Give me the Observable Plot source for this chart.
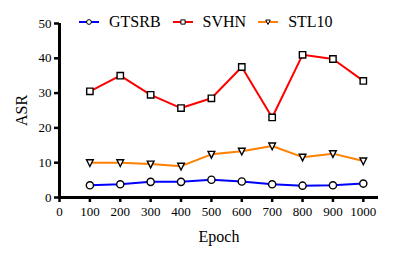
<!DOCTYPE html>
<html><head><meta charset="utf-8">
<script src="https://cdn.jsdelivr.net/npm/d3@7"></script>
<script src="https://cdn.jsdelivr.net/npm/@observablehq/plot@0.6"></script>
<style>
body{margin:0;background:#fff;font-family:"Liberation Serif",serif;}
#wrap{position:relative;width:416px;height:259px;}
#wrap svg text{font-family:"Liberation Serif",serif;}
#legend{position:absolute;left:79px;top:13px;display:flex;align-items:center;font-size:16px;color:#000;}
#legend .it{display:flex;align-items:center;margin-right:12px;}
#legend svg{margin-right:10px;}
</style></head>
<body><div id="wrap"><div id="legend"></div></div>
<script>
const epochs = [100,200,300,400,500,600,700,800,900,1000];
const gtsrb = [3.5,3.8,4.5,4.5,5.1,4.6,3.8,3.4,3.5,4.0];
const svhn  = [30.5,35.0,29.5,25.7,28.5,37.5,23.0,41.0,39.8,33.5];
const stl10 = [10.0,10.0,9.6,9.0,12.4,13.3,14.8,11.6,12.6,10.5];
const seriesNames = ["GTSRB","SVHN","STL10"];
const seriesColors = ["#0000ff","#ff0000","#ff8000"];
const xTicks = [0,100,200,300,400,500,600,700,800,900,1000];
const yTicks = [0,10,20,30,40,50];

const triDown = {draw(ctx, size){const r=Math.sqrt(size/(Math.sqrt(3)*3/4)); const h=r*0.75; ctx.moveTo(-r*0.6,-h*0.7); ctx.lineTo(r*0.6,-h*0.7); ctx.lineTo(0,h*0.9); ctx.closePath();}};
const symbols = ["circle","square",triDown];

const vals = [gtsrb,svhn,stl10];
const serif = '"Liberation Serif", serif';

const lineMarks = [], dotMarks = [];
seriesNames.forEach((s,i)=>{
  const rows = epochs.map((e,j)=>({series:s,epoch:e,asr:vals[i][j]}));
  lineMarks.push(Plot.line(rows,{x:"epoch",y:"asr",stroke:seriesColors[i],strokeWidth:2}));
  dotMarks.push(Plot.dot(rows,{x:"epoch",y:"asr",symbol:symbols[i],stroke:"#000",fill:"#fff",strokeWidth:1.4,r:3.6}));
});

const chart = Plot.plot({
  width:416,height:259,
  marginLeft:59,marginRight:38,marginTop:23,marginBottom:62,
  style:{fontSize:"13px",color:"#000",background:"#fff",fontFamily:serif},
  x:{domain:[0,1050]},
  y:{domain:[0,50]},
  marks:[
    Plot.axisX({ticks:xTicks,tickFormat:d=>String(d),tickSize:5,strokeWidth:2.5,tickPadding:4,label:"Epoch",labelAnchor:"center",labelArrow:"none",labelOffset:44}),
    Plot.axisY({ticks:yTicks,tickSize:5,strokeWidth:2.5,tickPadding:3,label:"ASR",labelAnchor:"center",labelArrow:"none",labelOffset:44}),
    Plot.ruleX([0],{strokeWidth:3,stroke:"#000"}),
    Plot.ruleY([0],{strokeWidth:3,stroke:"#000"}),
    ...lineMarks,
    ...dotMarks
  ]
});
chart.querySelectorAll('g[aria-label="x-axis label"] text, g[aria-label="y-axis label"] text').forEach(t=>t.style.fontSize="16px");
document.getElementById("wrap").prepend(chart);

const leg = d3.select("#legend");
seriesNames.forEach((s,i)=>{
  const it = leg.append("div").attr("class","it");
  const sv = it.append("svg").attr("width",20).attr("height",12);
  sv.append("line").attr("x1",0).attr("x2",20).attr("y1",6).attr("y2",6).attr("stroke",seriesColors[i]).attr("stroke-width",2);
  const sym = i===0?d3.symbolCircle:i===1?d3.symbolSquare:triDown;
  sv.append("path").attr("transform","translate(10,6)").attr("d",d3.symbol(sym,18)()).attr("fill","#fff").attr("stroke","#000").attr("stroke-width",1);
  it.append("span").text(s);
});
</script></body></html>
